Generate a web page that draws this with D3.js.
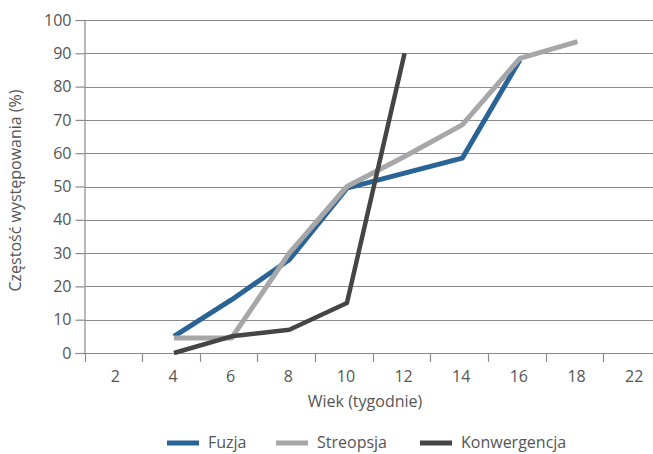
<!DOCTYPE html>
<html>
<head>
<meta charset="utf-8">
<script src="https://cdn.jsdelivr.net/npm/d3@7"></script>
<style>
  html, body { margin: 0; padding: 0; background: #fff; }
  svg { display: block; font-family: "Open Sans", sans-serif; }
  text { fill: #555; }
</style>
</head>
<body>
<svg id="chart" width="653" height="454"></svg>
<script>
// Age in weeks (category axis)
const weeks = ["2", "4", "6", "8", "10", "12", "14", "16", "18", "22"];
// Occurrence frequency (%) per series; null = no observation
const fuzja        = [null, 5, 16, 28, 49.5, 54, 58.5, 88, null, null];
const streopsja    = [null, 4.5, 4.5, 30, 50, 59, 68.5, 88.5, 93.5, null];
const konwergencja = [null, 0, 5, 7, 15, 90, null, null, null, null];
const yTicks = [0, 10, 20, 30, 40, 50, 60, 70, 80, 90, 100];
const seriesNames = ["Fuzja", "Streopsja", "Konwergencja"];
const seriesColors = ["#2a6496", "#a7a7a9", "#454545"];

const series = [fuzja, streopsja, konwergencja];

const svg = d3.select("#chart");
const plotLeft = 84.5, plotRight = 661, plotTop = 20, plotBottom = 353;

const x = d3.scaleBand().domain(weeks).range([plotLeft, plotRight]);
const y = d3.scaleLinear().domain([0, 100]).range([plotBottom, plotTop]);

// horizontal gridlines
svg.append("g")
  .selectAll("line")
  .data(yTicks.filter(d => d > 0))
  .join("line")
  .attr("x1", plotLeft).attr("x2", 653)
  .attr("y1", d => Math.round(y(d)) + 0.5).attr("y2", d => Math.round(y(d)) + 0.5)
  .attr("stroke", "#8a8a8a").attr("stroke-width", 1.2);

// y axis
const yAxis = svg.append("g")
  .attr("transform", `translate(${plotLeft},0)`)
  .call(d3.axisLeft(y).tickValues(yTicks).tickSize(9).tickPadding(4));
yAxis.select(".domain").attr("stroke", "#8a8a8a").attr("stroke-width", 1.2);
yAxis.selectAll(".tick line").attr("stroke", "#8a8a8a").attr("stroke-width", 1.2);
yAxis.selectAll(".tick text")
  .attr("font-size", 16).attr("font-family", "Open Sans, sans-serif").attr("fill", "#555");

// x axis: base line, boundary ticks and category labels
const xg = svg.append("g");
xg.append("line")
  .attr("x1", plotLeft).attr("x2", 653)
  .attr("y1", plotBottom + 0.5).attr("y2", plotBottom + 0.5)
  .attr("stroke", "#8a8a8a").attr("stroke-width", 1.2);
xg.selectAll("line.bt")
  .data(weeks)
  .join("line")
  .attr("class", "bt")
  .attr("x1", d => Math.round(x(d)) + 0.5).attr("x2", d => Math.round(x(d)) + 0.5)
  .attr("y1", plotBottom).attr("y2", plotBottom + 9)
  .attr("stroke", "#8a8a8a").attr("stroke-width", 1.2);
xg.selectAll("text")
  .data(weeks)
  .join("text")
  .attr("x", d => x(d) + x.bandwidth() / 2 + 2)
  .attr("y", 382)
  .attr("text-anchor", "middle")
  .attr("font-size", 16)
  .text(d => d);

// axis titles
svg.append("text")
  .attr("x", 365).attr("y", 407)
  .attr("text-anchor", "middle")
  .attr("font-size", 16)
  .text("Wiek (tygodnie)");
svg.append("text")
  .attr("transform", `translate(21,${(plotTop + plotBottom) / 2 + 4}) rotate(-90)`)
  .attr("text-anchor", "middle")
  .attr("font-size", 16)
  .text("Częstość występowania (%)");

// series lines
const line = d3.line()
  .defined(d => d.v !== null)
  .x(d => x(d.k) + x.bandwidth() / 2 + 3)
  .y(d => y(d.v));

series.forEach((vals, i) => {
  svg.append("path")
    .datum(weeks.map((k, j) => ({ k, v: vals[j] })))
    .attr("fill", "none")
    .attr("stroke", seriesColors[i])
    .attr("stroke-width", i === 2 ? 4.5 : 5)
    .attr("stroke-linejoin", "round")
    .attr("d", line);
});

// legend
const legendX = [167, 276, 420];
const lg = svg.append("g");
seriesNames.forEach((name, i) => {
  lg.append("line")
    .attr("x1", legendX[i]).attr("x2", legendX[i] + 32)
    .attr("y1", 443).attr("y2", 443)
    .attr("stroke", seriesColors[i]).attr("stroke-width", 5);
  lg.append("text")
    .attr("x", legendX[i] + 41).attr("y", 448)
    .attr("font-size", 16)
    .text(name);
});
</script>
</body>
</html>
